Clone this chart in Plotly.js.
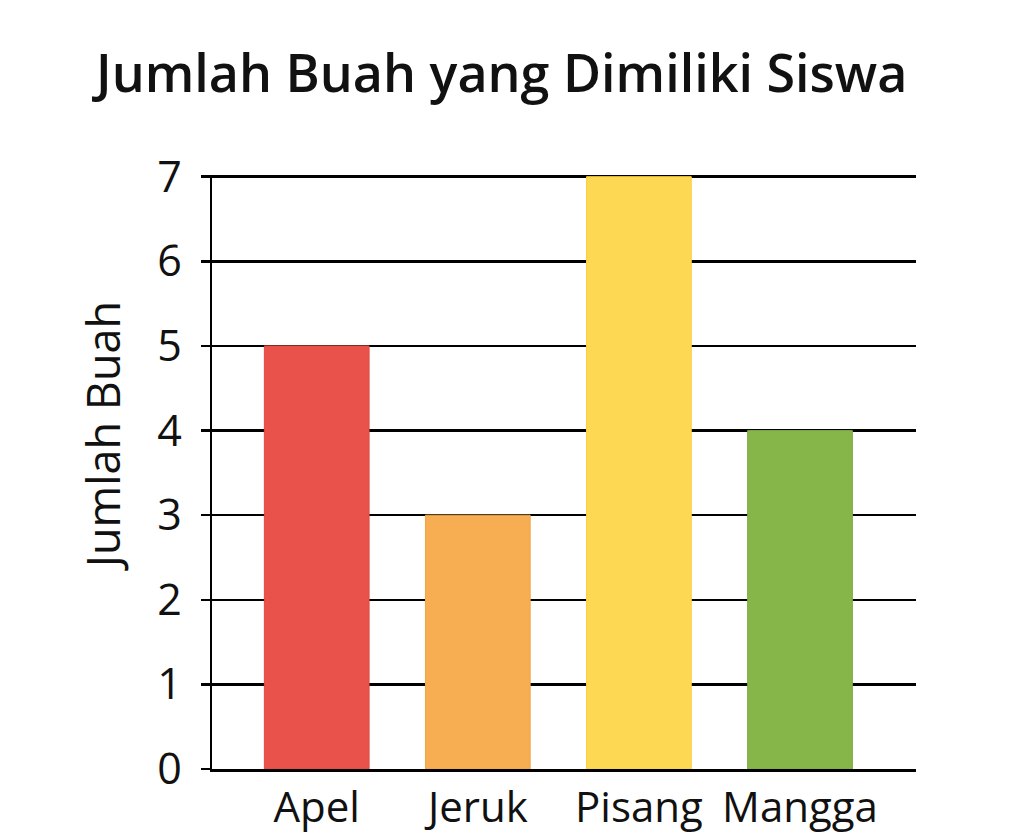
<!DOCTYPE html>
<html>
<head>
<meta charset="utf-8">
<script src="https://cdn.plot.ly/plotly-3.0.1.min.js"></script>
<style>html,body{margin:0;padding:0;background:#fff;}#chart{width:1024px;height:840px;}</style>
</head>
<body>
<div id="chart"></div>
<script>
const categories = ["Apel", "Jeruk", "Pisang", "Mangga"];
const values = [5, 3, 7, 4];
const barColors = ["#E8524A", "#F7AD52", "#FDD853", "#86B54A"];
const lineColors = ["#E04A42", "#F0A448", "#F8D040", "#7BAA42"];
const yTicks = [0, 1, 2, 3, 4, 5, 6, 7];
const titleText = "Jumlah Buah yang Dimiliki Siswa";
const yTitleText = "Jumlah Buah";

const fontFam = "'Open Sans', 'Noto Sans', sans-serif";

Plotly.newPlot("chart", [{
  type: "bar",
  x: categories,
  y: values,
  width: 0.65,
  marker: {color: barColors, line: {color: lineColors, width: 1}},
  hoverinfo: "none"
}], {
  width: 1024, height: 840,
  margin: {l: 212, r: 108, t: 175, b: 71},
  paper_bgcolor: "#fff", plot_bgcolor: "#fff",
  showlegend: false,
  title: {text: titleText, x: 0.49, xanchor: "center", y: 0.912, yanchor: "middle",
          font: {family: fontFam, size: 52, color: "#111", weight: 600}},
  xaxis: {
    range: [-0.65, 3.72],
    showgrid: false, zeroline: false,
    showline: true, linecolor: "#000", linewidth: 2.5,
    ticks: "", tickfont: {family: fontFam, size: 42, color: "#111", weight: 500},
    ticklabelstandoff: 0, fixedrange: true
  },
  yaxis: {
    range: [0, 7.02],
    tickvals: yTicks,
    showgrid: true, gridcolor: "#000", gridwidth: 2.5,
    zeroline: false,
    showline: true, linecolor: "#000", linewidth: 2.5,
    ticks: "outside", ticklen: 9, tickwidth: 2.5, tickcolor: "#000",
    tickfont: {family: fontFam, size: 43, color: "#111", weight: 500},
    ticklabelstandoff: 10,
    fixedrange: true
  },
  annotations: [{
    text: yTitleText, textangle: -90,
    xref: "paper", yref: "paper",
    x: -0.156, y: 0.5606, xanchor: "center", yanchor: "middle",
    showarrow: false,
    font: {family: fontFam, size: 45, color: "#111", weight: 500}
  }]
}, {displayModeBar: false, staticPlot: true});
</script>
</body>
</html>
